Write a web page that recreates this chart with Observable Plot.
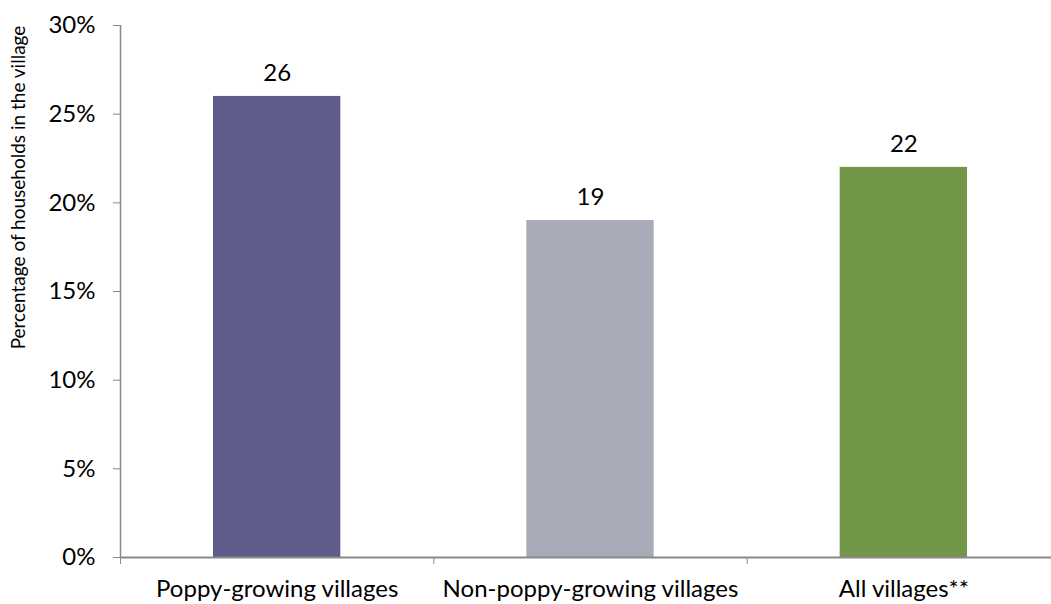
<!DOCTYPE html>
<html>
<head>
<meta charset="utf-8">
<script src="https://cdn.jsdelivr.net/npm/d3@7"></script>
<script src="https://cdn.jsdelivr.net/npm/@observablehq/plot@0.6"></script>
<style>
  html, body { margin: 0; padding: 0; background: #fff; }
  #chart { width: 1051px; height: 604px; }
</style>
</head>
<body>
<div id="chart"></div>
<script>
const categories = ["Poppy-growing villages", "Non-poppy-growing villages", "All villages**"];
const values = [26, 19, 22];
const colors = ["#5f5b8a", "#a8aab8", "#729647"];
const yTicks = [0, 5, 10, 15, 20, 25, 30];
const yLabel = "Percentage of households in the village";

const data = categories.map((c, i) => ({category: c, value: values[i], color: colors[i], i}));
const FONT = "Lato, 'Open Sans', sans-serif";
const AXIS = "#898989";

const chart = Plot.plot({
  width: 1051,
  height: 604,
  marginTop: 25,
  marginBottom: 47,
  marginLeft: 120,
  marginRight: 0,
  style: {fontFamily: FONT, fontSize: "24px", color: "#000", background: "#fff"},
  x: {type: "linear", domain: [0, 3], range: [120, 1060]},
  y: {domain: [0, 30]},
  marks: [
    Plot.rectY(data, {x1: "i", x2: d => d.i + 1, y: "value", fill: "color", insetLeft: 93, insetRight: 93}),
    Plot.text(data, {x: d => d.i + 0.5, y: "value", text: d => String(d.value), dy: -23, fontSize: 24, fill: "#000"}),
    Plot.axisY({ticks: yTicks, tickFormat: d => d + "%", tickSize: 7, tickPadding: 18, stroke: AXIS, strokeOpacity: 1, fontSize: 24, label: null}),
    Plot.ruleX([0], {stroke: AXIS, strokeWidth: 1.5}),
    Plot.ruleY([0], {stroke: AXIS, strokeWidth: 2}),
    Plot.axisX({ticks: [0, 1, 2], tickFormat: () => "", tickSize: 7, stroke: AXIS, strokeOpacity: 1, label: null}),
    Plot.axisX({ticks: [0.5, 1.5, 2.5], tickFormat: d => categories[Math.floor(d)], tickSize: 0, tickPadding: 22, fontSize: 24, label: null}),
    Plot.text([yLabel], {frameAnchor: "left", text: d => d, rotate: -90, textAnchor: "middle", dx: -102, dy: -104, fontSize: 19, fill: "#000"})
  ]
});
document.getElementById("chart").appendChild(chart);
</script>
</body>
</html>
